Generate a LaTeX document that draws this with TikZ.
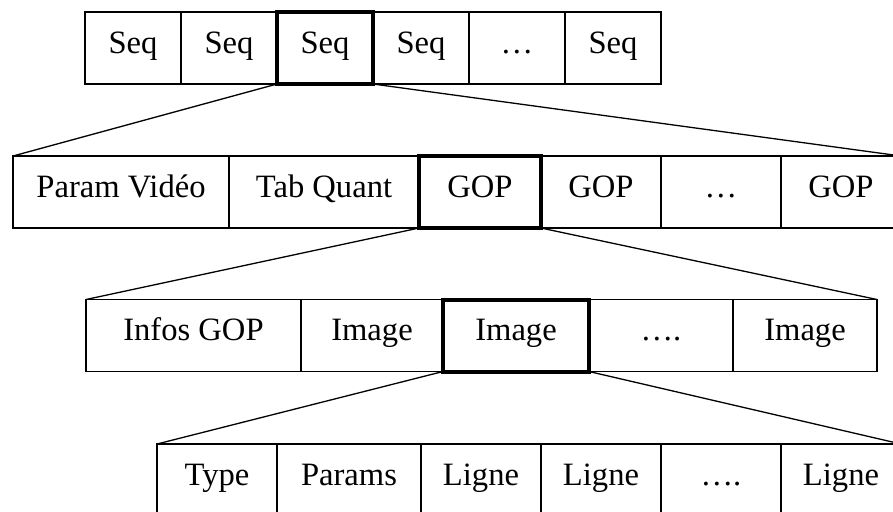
\documentclass[tikz,border=0pt]{standalone}
\usepackage{fontspec}
\setmainfont{Liberation Serif}
\begin{document}
\begin{tikzpicture}[x=0.5pt,y=-0.5pt,
  cell/.style={draw, line width=0.65pt, inner sep=0pt, outer sep=0pt,
    minimum height=36pt, text height=12pt, text depth=7pt,
    font=\fontsize{16.3}{19}\selectfont},
  sel/.style={cell, line width=2pt},
  link/.style={line width=0.65pt}]
\useasboundingbox (0,0) rectangle (893,511);
\clip (0,0) rectangle (893,511);
% Row 1
\node[cell, minimum width=48pt] (s1) at (133,48) {Seq};
\node[cell, minimum width=48pt] (s2) at (229,48) {Seq};
\node[cell, minimum width=48pt] (s4) at (421,48) {Seq};
\node[cell, minimum width=48pt] (s5) at (517,48) {…};
\node[cell, minimum width=48pt] (s6) at (613,48) {Seq};
\node[sel, minimum width=48pt] (s3) at (325,48) {Seq};
% Row 2
\node[cell, minimum width=108pt] (p1) at (121,192) {Param Vidéo};
\node[cell, minimum width=95pt] (p2) at (324,192) {Tab Quant};
\node[cell, minimum width=60pt] (p4) at (601,192) {GOP};
\node[cell, minimum width=60pt] (p5) at (721,192) {…};
\node[cell, minimum width=60pt] (p6) at (841,192) {GOP};
\node[sel, minimum width=61pt] (p3) at (480,192) {GOP};
% Row 3
\node[cell, minimum width=107.5pt] (g1) at (193.5,335.5) {Infos GOP};
\node[cell, minimum width=71pt] (g2) at (372,335.5) {Image};
\node[cell, minimum width=72pt] (g4) at (661,335.5) {….};
\node[cell, minimum width=72pt] (g5) at (805,335.5) {Image};
\node[sel, minimum width=73pt] (g3) at (516,335.5) {Image};
% Row 4
\node[cell, minimum width=60pt] (i1) at (217,480) {Type};
\node[cell, minimum width=72pt] (i2) at (349,480) {Params};
\node[cell, minimum width=60pt] (i3) at (481,480) {Ligne};
\node[cell, minimum width=60pt] (i4) at (601,480) {Ligne};
\node[cell, minimum width=60pt] (i5) at (721,480) {….};
\node[cell, minimum width=60pt] (i6) at (841,480) {Ligne};
% Connectors
\draw[link] (s3.south west) -- (p1.north west);
\draw[link] (s3.south east) -- (p6.north east);
\draw[link] (p3.south west) -- (g1.north west);
\draw[link] (p3.south east) -- (g5.north east);
\draw[link] (g3.south west) -- (i1.north west);
\draw[link] (g3.south east) -- (i6.north east);
\end{tikzpicture}
\end{document}
